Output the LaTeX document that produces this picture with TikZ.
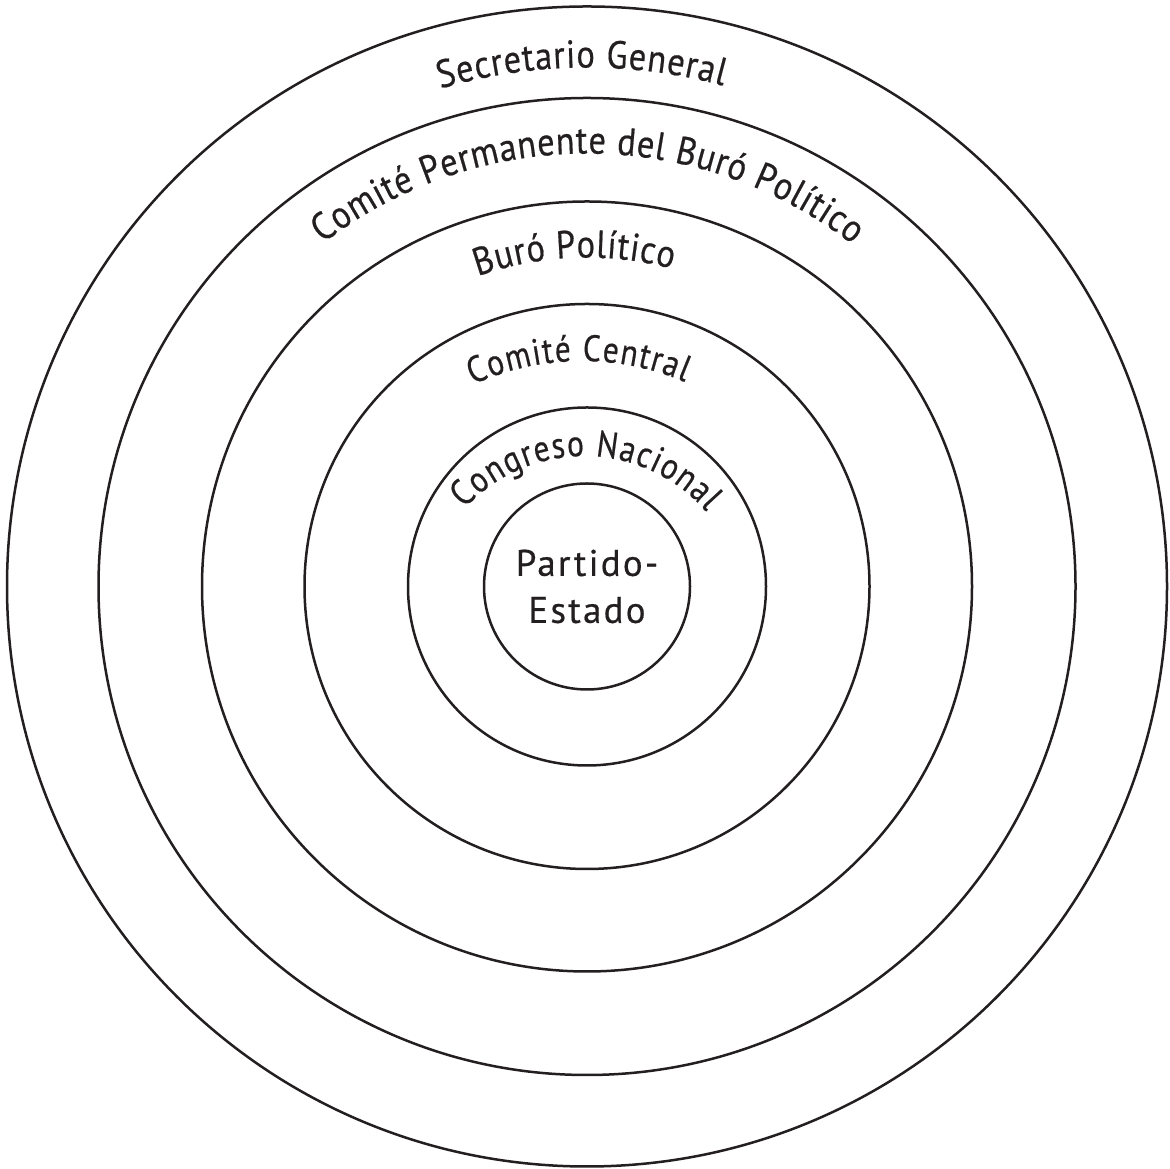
\documentclass[tikz,border=0pt]{standalone}
\usepackage{fontspec}
\setmainfont{PT Sans}
\newfontfamily\ringfam[FakeStretch=0.88,FakeBold=0.5]{PT Sans}
\newfontfamily\innerfam[FakeStretch=0.85,FakeBold=0.5]{PT Sans}
\newfontfamily\corefam[LetterSpace=6,FakeBold=0.5]{PT Sans}
\usetikzlibrary{decorations.text}
\definecolor{ink}{RGB}{35,31,32}
\newcommand\ringbig{\ringfam\fontsize{39}{45}\selectfont}
\newcommand\ringsmall{\innerfam\fontsize{37}{43}\selectfont}
\newcommand\corefont{\corefam\fontsize{37}{47}\selectfont}
\begin{document}
\begin{tikzpicture}[x=1pt,y=1pt,
  ring/.style={circle, draw=ink, line width=2.5pt, inner sep=0pt, outer sep=0pt},
  arctext/.style={decorate, decoration={text along path, text align={fit to path}, text color=ink, text={#1}}}]
\useasboundingbox (0,0) rectangle (1170,1169);
\coordinate (O) at (587,582.5);
\node[ring, minimum size=1160] (r1) at (O) {};
\node[ring, minimum size=977] (r2) at (O) {};
\node[ring, minimum size=770] (r3) at (O) {};
\node[ring, minimum size=565] (r4) at (O) {};
\node[ring, minimum size=358] (r5) at (O) {};
\node[ring, minimum size=206, align=center, font=\corefont, text=ink] (r6) at (O) {Partido-\\Estado};
\coordinate (Occ) at (582,545);
\coordinate (Ocn) at (584,551);
\path[arctext={|\ringbig|Secretario General}] (O) ++(106.4:519) arc[start angle=106.4, end angle=74.8, radius=519];
\path[arctext={|\ringbig|Comité Permanente del Buró Político}] (O) ++(127.6:433) arc[start angle=127.6, end angle=52.2, radius=433];
\path[arctext={|\ringbig|Buró Político}] (O) ++(109.4:329) arc[start angle=109.4, end angle=75.0, radius=329];
\path[arctext={|\ringsmall|Comité Central}] (Occ) ++(114.5:263) arc[start angle=114.5, end angle=67.0, radius=263];
\path[arctext={|\ringsmall|Congreso Nacional}] (Ocn) ++(137.5:162) arc[start angle=137.5, end angle=41.0, radius=162];
\end{tikzpicture}
\end{document}
